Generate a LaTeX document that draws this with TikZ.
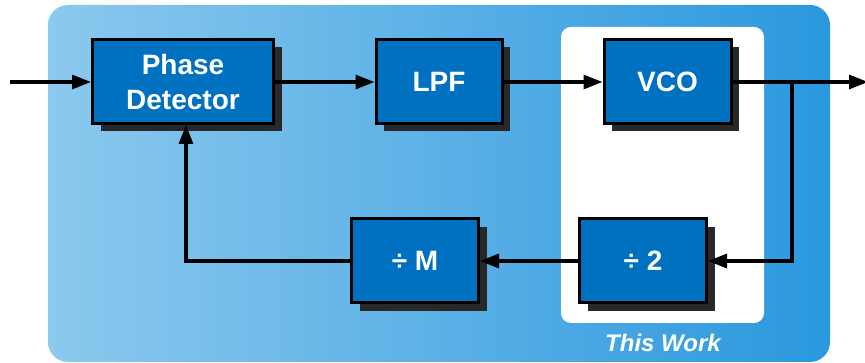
\documentclass[tikz,border=0pt]{standalone}
\usepackage{fontspec}
\setmainfont{Liberation Sans}
\usetikzlibrary{arrows.meta,positioning}
\definecolor{bgleft}{RGB}{140,201,238}
\definecolor{bgright}{RGB}{42,152,222}
\definecolor{boxblue}{RGB}{0,112,192}
\definecolor{shadowgray}{RGB}{40,40,40}
\tikzset{
  blk/.style={draw=black, line width=3pt, fill=boxblue, text=white,
    font=\bfseries\fontsize{28}{35}\selectfont, align=center,
    inner sep=0pt, minimum width=#1, minimum height=84pt,
    preaction={fill=shadowgray, transform canvas={shift={(8pt,-8pt)}}}},
  blk/.default=127pt,
  wire/.style={line width=3.2pt, draw=black},
  arr/.style={wire, -{Triangle[length=19pt,width=14pt]}},
}
\begin{document}
\begin{tikzpicture}[x=1pt,y=-1pt]
\useasboundingbox (0,0) rectangle (865,363);
\shade[left color=bgleft, right color=bgright, rounded corners=20pt] (48,5) rectangle (830,362);
\fill[white, rounded corners=10pt] (561,27) rectangle (764,323);
\node[blk=181pt] (pd) at (183,81.5) {Phase\\Detector};
\node[blk=126pt] (lpf) at (439,81.5) {LPF};
\node[blk=127pt] (vco) at (667.5,81.5) {VCO};
\node[blk=127pt] (m) at (415,261) {÷ M};
\node[blk=127pt] (d2) at (643,261) {÷ 2};
\node[text=white, font=\bfseries\itshape\fontsize{24}{28}\selectfont] (tw) at (663,343) {This Work};
\coordinate (in) at (10,82);
\coordinate (out) at (868,82);
\coordinate (br) at (792,82);
\coordinate (fb) at (186,261);
\draw[arr] (in) -- (pd.west |- in);
\draw[arr] (pd.east |- in) -- (lpf.west |- in);
\draw[arr] (lpf.east |- in) -- (vco.west |- in);
\draw[arr] (vco.east |- out) -- (out);
\draw[arr] (br) |- (d2.east);
\draw[arr] (d2.west) -- (m.east);
\draw[arr] (m.west) -| (pd.south -| fb);
\end{tikzpicture}
\end{document}
